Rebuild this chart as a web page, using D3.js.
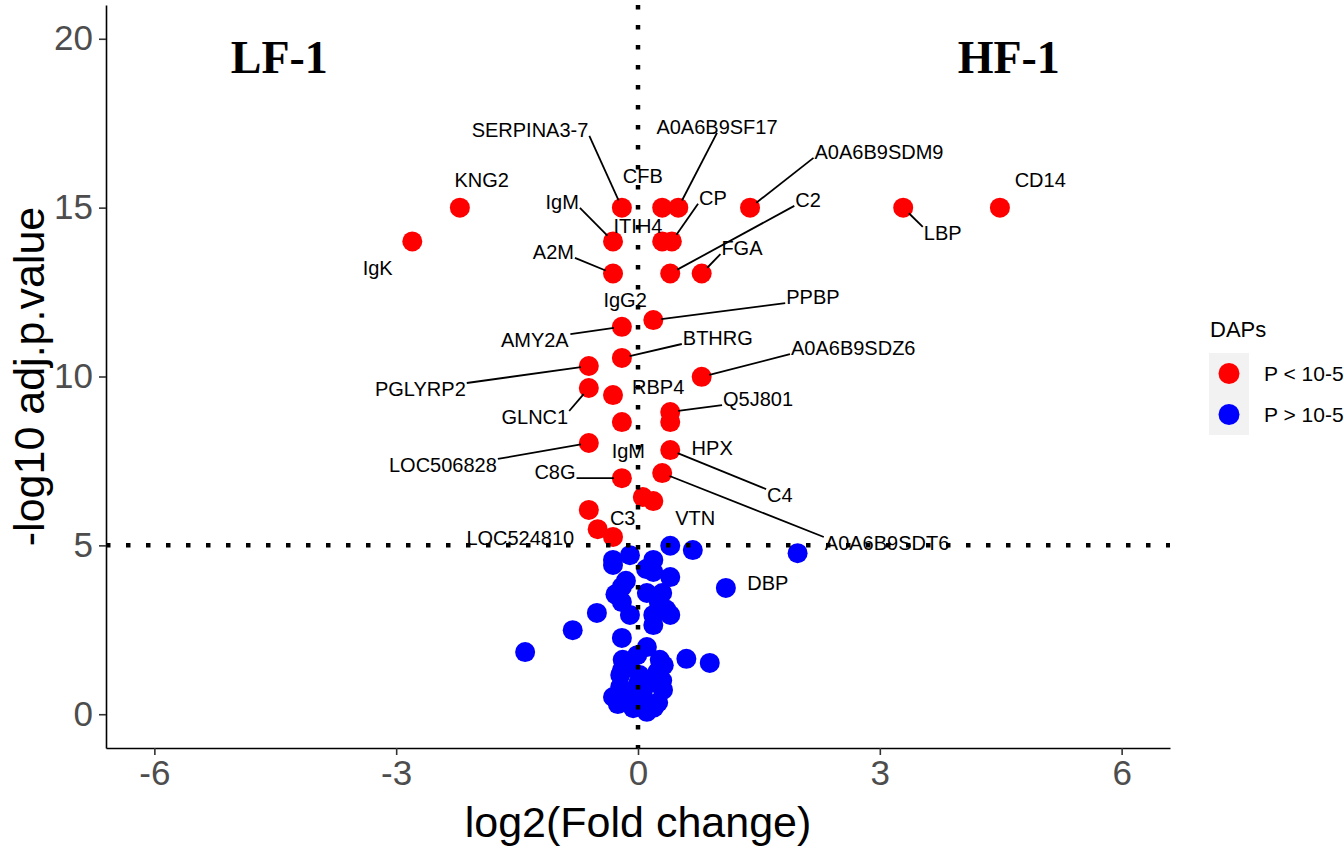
<!DOCTYPE html>
<html>
<head>
<meta charset="utf-8">
<script src="https://cdn.jsdelivr.net/npm/d3@7"></script>
<style>
  body { margin: 0; background: #fff; }
  svg { display: block; font-family: "Liberation Sans", Arial, sans-serif; }
</style>
</head>
<body>
<svg id="chart"></svg>
<script>
// Significant proteins (P < 10-5): log2 fold change / -log10 adj.p.value
const redFC = [4.49, 3.29, 1.39, 0.50, 0.30, -0.20, -2.21, -2.80, -0.31, 0.30, 0.42,
               -0.31, 0.40, 0.79, 0.19, -0.20, -0.20, -0.61, 0.79, -0.61, -0.31, 0.40,
               0.40, -0.20, -0.61, 0.40, 0.30, -0.20, 0.06, 0.19, -0.61, -0.50, -0.31];
const redP = [15.0, 15.0, 15.0, 15.0, 15.0, 15.0, 15.0, 14.0, 14.0, 14.0, 14.0,
              13.05, 13.05, 13.05, 11.67, 11.47, 10.55, 10.31, 9.99, 9.66, 9.45, 8.95,
              8.65, 8.65, 8.03, 7.82, 7.14, 6.99, 6.43, 6.31, 6.05, 5.48, 5.25];

// Non significant proteins (P > 10-5)
const blueFC = [0.40, 0.68, 1.98, 1.09, -0.31, -0.10, -0.31, 0.19, 0.19, 0.40, -0.20,
                0.11, 0.30, -0.20, -0.10, 0.19, 0.40, 0.19, -0.51, -0.81, -1.40, -0.20,
                0.11, 0.60, 0.89, -0.19, -0.01, 0.27, -0.22, 0.02, 0.24, -0.22, 0.15,
                0.31, -0.31, -0.14, 0.06, -0.06, 0.11, -0.20, 0.30, -0.25, 0.25, 0.00,
                0.00, 0.20, -0.10, 0.32, -0.28, 0.26, 0.10, -0.15, 0.35];
const blueP = [4.99, 4.86, 4.77, 3.74, 4.57, 4.71, 4.42, 4.57, 4.21, 4.06, 3.77,
               3.59, 3.59, 3.32, 2.94, 2.94, 2.94, 2.64, 3.00, 2.49, 1.84, 2.26,
               1.99, 1.64, 1.52, 1.61, 1.75, 1.61, 1.16, 1.16, 1.25, 0.81, 0.92,
               0.72, 0.51, 0.66, 0.57, 0.18, 0.07, 1.30, 1.00, 0.30, 0.35, 0.90,
               0.35, 0.20, 1.40, 1.45, 3.55, 3.30, 4.30, 3.95, 3.10];

// Gene labels (placed like ggrepel), target = index of the red point it points at
const labelNames = ["SERPINA3-7", "A0A6B9SF17", "CFB", "A0A6B9SDM9", "CD14", "LBP", "KNG2", "IgK",
                    "IgM", "ITIH4", "CP", "A2M", "C2", "FGA", "IgG2", "PPBP", "AMY2A", "BTHRG",
                    "A0A6B9SDZ6", "PGLYRP2", "GLNC1", "RBP4", "Q5J801", "LOC506828", "IgM", "HPX",
                    "C4", "C8G", "A0A6B9SDT6", "C3", "VTN", "LOC524810", "DBP"];
const labelFC = [-1.34, 0.98, 0.06, 2.99, 4.99, 3.78, -1.94, -3.23,
                 -0.94, 0.00, 0.93, -1.05, 2.11, 1.29, -0.16, 2.17, -1.28, 0.99,
                 2.67, -2.70, -1.28, 0.25, 1.49, -2.42, -0.12, 0.92,
                 1.76, -1.03, 3.09, -0.19, 0.71, -1.46, 1.61];
const labelP = [17.30, 17.39, 15.94, 16.65, 15.82, 14.25, 15.82, 13.21,
                15.17, 14.46, 15.29, 13.69, 15.23, 13.80, 12.27, 12.35, 11.08, 11.14,
                10.84, 9.63, 8.80, 9.69, 9.33, 7.38, 7.79, 7.88,
                6.49, 7.17, 5.07, 5.81, 5.81, 5.22, 3.89];
const labelTarget = [5, 3, null, 2, null, 1, null, null,
                     8, null, 10, 11, 12, 13, null, 14, 15, 16,
                     18, 17, 19, null, 21, 24, null, null,
                     25, 27, 26, null, null, null, null];

const xTicks = [-6, -3, 0, 3, 6];
const yTicks = [0, 5, 10, 15, 20];
const groupNames = ["LF-1", "HF-1"];
const groupFC = [-4.45, 4.60];
const groupP = [19.0, 19.0];
const legendTitle = "DAPs";
const legendLabels = ["P < 10-5", "P > 10-5"];
const legendColors = ["#FF0000", "#0000FF"];
const fcLine = 0;
const pLine = 5;

function CreateVolcanoChart() {
    var svgWidth = 1344;
    var svgHeight = 848;
    var panel = {l: 106, r: 1170, t: 5, b: 748};
    var pointR = 10;

    const svg = d3.select('#chart')
        .attr('width', svgWidth)
        .attr('height', svgHeight);

    var xScale = d3.scaleLinear().domain([-6.6, 6.6]).range([panel.l, panel.r]);
    var yScale = d3.scaleLinear().domain([-1, 21]).range([panel.b, panel.t]);

    // Axes
    var xAxis = svg.append('g')
        .attr('transform', 'translate(' + [0, panel.b] + ')')
        .call(d3.axisBottom(xScale).tickValues(xTicks).tickFormat(d => String(d))
            .tickSize(7).tickSizeOuter(0).tickPadding(5));
    var yAxis = svg.append('g')
        .attr('transform', 'translate(' + [panel.l, 0] + ')')
        .call(d3.axisLeft(yScale).tickValues(yTicks).tickFormat(d => String(d))
            .tickSize(7).tickSizeOuter(0).tickPadding(6));

    [xAxis, yAxis].forEach(ax => {
        ax.select('.domain').attr('stroke', '#000').attr('stroke-width', 1.6);
        ax.selectAll('.tick line').attr('stroke', '#333').attr('stroke-width', 1.6);
        ax.selectAll('.tick text')
            .attr('fill', '#4D4D4D')
            .attr('font-size', '35px')
            .attr('font-family', '"Liberation Sans", Arial, sans-serif');
    });

    // Points
    var blue = blueFC.map((v, i) => ({fc: v, p: blueP[i]}));
    var red = redFC.map((v, i) => ({fc: v, p: redP[i]}));

    svg.append('g').selectAll('circle')
        .data(blue)
        .enter()
        .append('circle')
        .attr('cx', d => xScale(d.fc))
        .attr('cy', d => yScale(d.p))
        .attr('r', pointR)
        .attr('fill', legendColors[1]);

    svg.append('g').selectAll('circle')
        .data(red)
        .enter()
        .append('circle')
        .attr('cx', d => xScale(d.fc))
        .attr('cy', d => yScale(d.p))
        .attr('r', pointR)
        .attr('fill', legendColors[0]);

    // Threshold lines (dotted)
    svg.append('line')
        .attr('x1', xScale(fcLine)).attr('x2', xScale(fcLine))
        .attr('y1', panel.t).attr('y2', panel.b)
        .attr('stroke', '#000').attr('stroke-width', 4.5)
        .attr('stroke-dasharray', '4.5,15.5');
    svg.append('line')
        .attr('x1', panel.l).attr('x2', panel.r)
        .attr('y1', yScale(pLine)).attr('y2', yScale(pLine))
        .attr('stroke', '#000').attr('stroke-width', 4.5)
        .attr('stroke-dasharray', '4.5,15.5');

    // Labels + connecting segments
    var segG = svg.append('g');
    var labG = svg.append('g');
    var labels = labelNames.map((n, i) => ({name: n, fc: labelFC[i], p: labelP[i], target: labelTarget[i]}));

    labG.selectAll('text')
        .data(labels)
        .enter()
        .append('text')
        .attr('x', d => xScale(d.fc))
        .attr('y', d => yScale(d.p))
        .attr('text-anchor', 'middle')
        .attr('dominant-baseline', 'central')
        .attr('font-size', '20px')
        .attr('fill', '#000')
        .text(d => d.name)
        .each(function(d) {
            if (d.target === null) return;
            var bb = this.getBBox();
            var x1 = bb.x - 1, x2 = bb.x + bb.width + 1;
            var cy = yScale(d.p), hh = 6;
            var px = xScale(red[d.target].fc), py = yScale(red[d.target].p);
            var sx = px < x1 ? x1 : (px > x2 ? x2 : (x1 + x2) / 2);
            var sy = py < cy - hh ? cy - hh : (py > cy + hh ? cy + hh : cy);
            var dx = px - sx, dy = py - sy, len = Math.sqrt(dx * dx + dy * dy);
            var ex = px - dx / len * (pointR - 2), ey = py - dy / len * (pointR - 2);
            segG.append('line')
                .attr('x1', sx).attr('y1', sy)
                .attr('x2', ex).attr('y2', ey)
                .attr('stroke', '#000').attr('stroke-width', 1.8);
        });

    // Group annotations
    svg.append('g').selectAll('text')
        .data(groupNames)
        .enter()
        .append('text')
        .attr('x', (d, i) => xScale(groupFC[i]))
        .attr('y', (d, i) => yScale(groupP[i]))
        .attr('text-anchor', 'middle')
        .attr('font-family', '"Liberation Serif", "Times New Roman", serif')
        .attr('font-weight', 'bold')
        .attr('font-size', '46px')
        .text(d => d);

    // Axis titles
    svg.append('text')
        .attr('x', (panel.l + panel.r) / 2)
        .attr('y', 837)
        .attr('text-anchor', 'middle')
        .attr('font-size', '43px')
        .text('log2(Fold change)');
    svg.append('text')
        .attr('transform', 'translate(' + [44, (panel.t + panel.b) / 2] + ') rotate(-90)')
        .attr('text-anchor', 'middle')
        .attr('font-size', '43px')
        .text('-log10 adj.p.value');

    // Legend
    var lg = svg.append('g').attr('transform', 'translate(1209, 353)');
    lg.append('text')
        .attr('x', 1)
        .attr('y', -16)
        .attr('font-size', '22px')
        .text(legendTitle);
    var keys = lg.selectAll('.key')
        .data(legendLabels)
        .enter()
        .append('g')
        .attr('class', 'key')
        .attr('transform', (d, i) => 'translate(' + [0, i * 41] + ')');
    keys.append('rect')
        .attr('width', 40).attr('height', 41)
        .attr('fill', '#F2F2F2');
    keys.append('circle')
        .attr('cx', 20).attr('cy', 20.5).attr('r', 10.5)
        .attr('fill', (d, i) => legendColors[i]);
    keys.append('text')
        .attr('x', 55).attr('y', 20.5)
        .attr('dominant-baseline', 'central')
        .attr('font-size', '21px')
        .text(d => d);
}

CreateVolcanoChart();
</script>
</body>
</html>
